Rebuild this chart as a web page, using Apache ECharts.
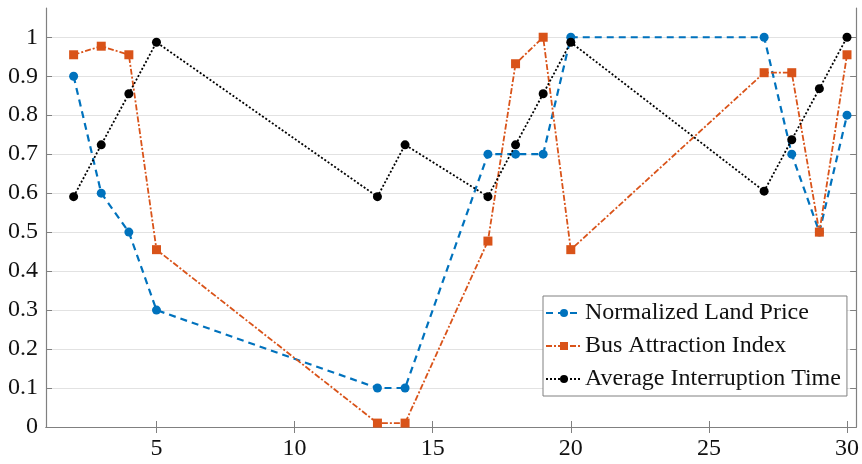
<!DOCTYPE html>
<html><head><meta charset="utf-8">
<script src="https://cdn.jsdelivr.net/npm/echarts@6/dist/echarts.min.js"></script>
<style>html,body{margin:0;padding:0;background:#fff}#c{width:862px;height:464px}</style>
</head><body><div id="c"></div>
<script>
const xs = [2,3,4,5,13,14,17,18,19,20,27,28,29,30];
const landPrice = [0.9,0.6,0.5,0.3,0.1,0.1,0.7,0.7,0.7,1.0,1.0,0.7,0.5,0.8];
const busIndex = [0.955,0.977,0.955,0.455,0.01,0.01,0.477,0.932,1.0,0.455,0.909,0.909,0.5,0.955];
const interruption = [0.591,0.724,0.855,0.987,0.591,0.724,0.591,0.724,0.855,0.987,0.605,0.737,0.868,1.0];
const xTicks = [5,10,15,20,25,30];
const yTicks = [0,0.1,0.2,0.3,0.4,0.5,0.6,0.7,0.8,0.9,1];
const names = ['Normalized Land Price','Bus Attraction Index','Average Interruption Time'];

const pair = v => xs.map((x,i)=>[x,v[i]]);
const font = '"Liberation Serif","Times New Roman",serif';
const chart = echarts.init(document.getElementById('c'), null, {renderer:'canvas'});
const line = {show:true,lineStyle:{color:'#808080',width:1.2}};
const tick = v => ({show:true,inside:true,length:6,lineStyle:{color:'#808080'},customValues:v});
chart.setOption({
  animation:false,
  backgroundColor:'#fff',
  grid:{left:46,right:4,top:8,bottom:37,containLabel:false},
  legend:{
    left:543, top:296, orient:'vertical', itemGap:9, itemWidth:36, itemHeight:10,
    backgroundColor:'#fff', borderColor:'#808080', borderWidth:1, padding:[5,6,5,2],
    textStyle:{fontFamily:font,fontSize:24,color:'#111',padding:[0,0,0,-2]},
    data:names
  },
  xAxis:[{
    type:'value', min:1, max:30.33, position:'bottom',
    axisLine:line, axisTick:tick(xTicks),
    axisLabel:{customValues:xTicks,fontFamily:font,fontSize:24,color:'#111',margin:10},
    splitLine:{show:false}
  },{
    type:'value', min:1, max:30.33, position:'top',
    axisLine:line, axisTick:tick(xTicks),
    axisLabel:{show:false,customValues:xTicks},
    splitLine:{show:false}
  }],
  yAxis:[{
    type:'value', min:0, max:1.075, position:'left',
    axisLine:line, axisTick:tick(yTicks),
    axisLabel:{customValues:yTicks,fontFamily:font,fontSize:24,color:'#111',margin:8,
      formatter:v=>String(+v.toFixed(1))},
    splitLine:{show:true,lineStyle:{color:'#e2e2e2',width:1}}
  },{
    type:'value', min:0, max:1.075, position:'right',
    axisLine:line, axisTick:tick(yTicks),
    axisLabel:{show:false,customValues:yTicks},
    splitLine:{show:false}
  }],
  series:[
    {name:names[0],type:'line',data:pair(landPrice),symbol:'circle',symbolSize:9,
     itemStyle:{color:'#0072BD'},lineStyle:{color:'#0072BD',width:2.2,type:[7,5]},z:3},
    {name:names[1],type:'line',data:pair(busIndex),symbol:'rect',symbolSize:9,
     itemStyle:{color:'#D95319'},lineStyle:{color:'#D95319',width:1.8,type:[6,2,2,2]},z:4},
    {name:names[2],type:'line',data:pair(interruption),symbol:'circle',symbolSize:9,
     itemStyle:{color:'#000'},lineStyle:{color:'#000',width:1.8,type:[2,2]},z:5}
  ]
});
</script></body></html>
